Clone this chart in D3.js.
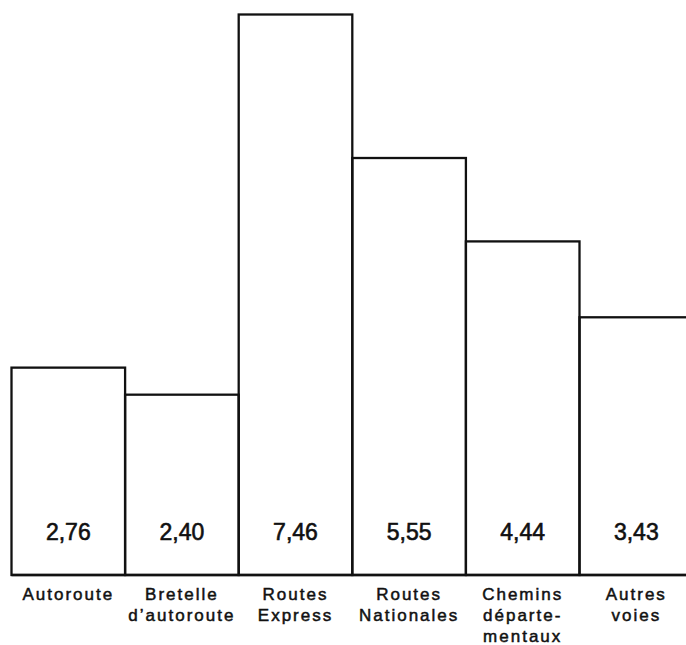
<!DOCTYPE html>
<html>
<head>
<meta charset="utf-8">
<script src="https://cdn.jsdelivr.net/npm/d3@7"></script>
<style>
  html, body { margin: 0; padding: 0; background: #fff; }
  svg { display: block; }
</style>
</head>
<body>
<svg id="chart" width="686" height="645"></svg>
<script>
// Data
const categories = ["Autoroute", "Bretelle\nd\u2019autoroute", "Routes\nExpress", "Routes\nNationales", "Chemins\nd\u00e9parte-\nmentaux", "Autres\nvoies"];
const values = [2.76, 2.40, 7.46, 5.55, 4.44, 3.43];
const valueLabels = ["2,76", "2,40", "7,46", "5,55", "4,44", "3,43"];

const svg = d3.select("#chart");
const baseY = 575;
const x = d3.scaleBand().domain(d3.range(categories.length)).range([11.5, 11.5 + 6 * 113.6]).padding(0);
const y = d3.scaleLinear().domain([0, 7.46]).range([baseY, 14.5]);

const font = "'Liberation Sans', Arial, Helvetica, sans-serif";

// Bars
svg.append("g").selectAll("rect").data(values).join("rect")
  .attr("x", (d, i) => x(i))
  .attr("y", d => y(d))
  .attr("width", x.bandwidth())
  .attr("height", d => baseY - y(d))
  .attr("fill", "none")
  .attr("stroke", "#111")
  .attr("stroke-width", 2.3);

// Value labels
svg.append("g").selectAll("text").data(valueLabels).join("text")
  .attr("x", (d, i) => x(i) + x.bandwidth() / 2)
  .attr("y", baseY - 35)
  .attr("text-anchor", "middle")
  .attr("font-family", font)
  .attr("font-size", 23)
  .attr("fill", "#111")
  .attr("stroke", "#111")
  .attr("stroke-width", 0.6)
  .text(d => d);

// Axis
const axis = d3.axisBottom(x).tickSize(0).tickSizeOuter(0).tickFormat(i => categories[i]);
const gAxis = svg.append("g").attr("transform", `translate(0,${baseY})`).call(axis);
gAxis.select(".domain").attr("stroke", "#111").attr("stroke-width", 2.3).attr("d", `M11.5,0H686`);
gAxis.selectAll(".tick text").each(function(i) {
  const t = d3.select(this);
  const lines = categories[i].split("\n");
  t.text(null)
    .attr("y", 0)
    .attr("dy", null)
    .attr("font-family", font)
    .attr("font-size", 17)
    .attr("letter-spacing", 2)
    .attr("fill", "#111")
    .attr("stroke", "#111")
    .attr("stroke-width", 0.5);
  lines.forEach((ln, k) => {
    t.append("tspan").attr("x", 0).attr("y", 24.5 + k * 21.3).text(ln);
  });
});
</script>
</body>
</html>
